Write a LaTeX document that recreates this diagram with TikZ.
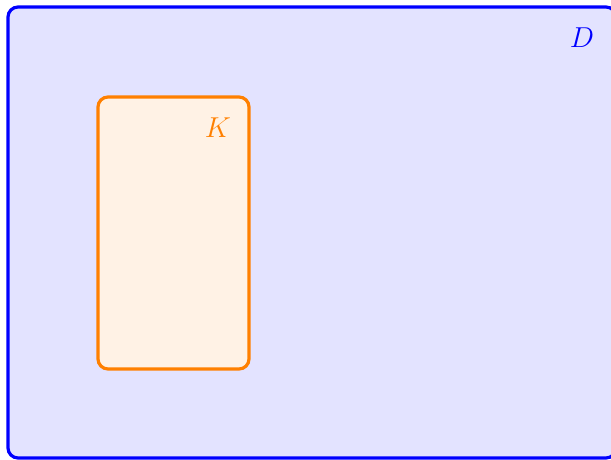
\documentclass[tikz,border=0pt]{standalone}
\usepackage{tikz}
\begin{document}
\begin{tikzpicture}[x=0.5pt,y=0.5pt,every node/.style={font=\fontsize{15}{17}\selectfont}]
\useasboundingbox (0,0) rectangle (611,460);
\clip (0,0) rectangle (611,460);
% domain D and compact set K
\draw[blue,line width=1.6pt,fill=blue!11,rounded corners=5pt] (8,2) rectangle (616,453);
\node[text=blue] (dlab) at (582,422) {$D$};
\draw[orange,line width=1.6pt,fill=orange!10,rounded corners=5pt] (98,91) rectangle (249,363);
\node[text=orange] (klab) at (218,332) {$K$};
\end{tikzpicture}
\end{document}
